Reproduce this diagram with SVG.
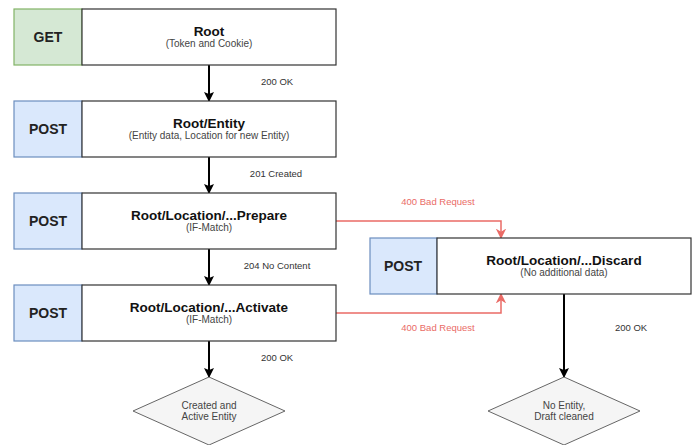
<svg xmlns="http://www.w3.org/2000/svg" width="694" height="445" viewBox="0 0 694 445">
<defs>
<style>
.box{fill:#ffffff;stroke:#333333;stroke-width:1.2}
.get{fill:#d5e8d4;stroke:#82b366;stroke-width:1.2}
.post{fill:#dae8fc;stroke:#6c8ebf;stroke-width:1.2}
.dia{fill:#f5f5f5;stroke:#666666;stroke-width:1}
.t{font-family:"Liberation Sans",Arial,sans-serif;text-anchor:middle}
.title{font-size:13.5px;font-weight:bold;fill:#111}
.sub{font-size:10px;fill:#444}
.verb{font-size:14px;font-weight:bold;fill:#222}
.lbl{font-size:9.5px;fill:#333}
.rl{font-size:9.5px;fill:#ea6b66}
.dt{font-size:10px;fill:#444}
.blk{fill:none;stroke:#000;stroke-width:2}
.red{fill:none;stroke:#ea6b66;stroke-width:1.5}
</style>
<marker id="ab" viewBox="0 0 10 10" refX="9" refY="5" markerWidth="5" markerHeight="5" markerUnits="strokeWidth" orient="auto"><path d="M0,0 L10,5 L0,10 L2,5 Z" fill="#000"/></marker>
<marker id="ar" viewBox="0 0 10 10" refX="9" refY="5" markerWidth="7" markerHeight="7" markerUnits="strokeWidth" orient="auto"><path d="M0,0 L10,5 L0,10 L3,5 Z" fill="#ea6b66"/></marker>
</defs>
<rect width="694" height="445" fill="#ffffff"/>

<g id="connectors">
<path class="blk" d="M209,65 V101" marker-end="url(#ab)"/>
<path class="blk" d="M209,157 V193" marker-end="url(#ab)"/>
<path class="blk" d="M209,249 V285" marker-end="url(#ab)"/>
<path class="blk" d="M209,341 V377" marker-end="url(#ab)"/>
<path class="blk" d="M564,294 V377" marker-end="url(#ab)"/>
<path class="red" d="M336,221 H501 V238" marker-end="url(#ar)"/>
<path class="red" d="M336,313 H501 V294" marker-end="url(#ar)"/>
<text class="t lbl" x="277" y="85">200 OK</text>
<text class="t lbl" x="276" y="177">201 Created</text>
<text class="t lbl" x="277" y="269">204 No Content</text>
<text class="t lbl" x="277" y="361">200 OK</text>
<text class="t rl" x="438" y="205">400 Bad Request</text>
<text class="t rl" x="438" y="331">400 Bad Request</text>
<text class="t lbl" x="631" y="331">200 OK</text>
</g>

<g id="root">
<rect class="get" x="14" y="9" width="68" height="56"/>
<rect class="box" x="82" y="9" width="254" height="56"/>
<text class="t verb" x="48" y="42">GET</text>
<text class="t title" x="209" y="36">Root</text>
<text class="t sub" x="209" y="47">(Token and Cookie)</text>
</g>

<g id="entity">
<rect class="post" x="14" y="101" width="68" height="56"/>
<rect class="box" x="82" y="101" width="254" height="56"/>
<text class="t verb" x="48" y="134">POST</text>
<text class="t title" x="209" y="128">Root/Entity</text>
<text class="t sub" x="209" y="139">(Entity data, Location for new Entity)</text>
</g>

<g id="prepare">
<rect class="post" x="14" y="193" width="68" height="56"/>
<rect class="box" x="82" y="193" width="254" height="56"/>
<text class="t verb" x="48" y="226">POST</text>
<text class="t title" x="209" y="220">Root/Location/...Prepare</text>
<text class="t sub" x="209" y="231">(IF-Match)</text>
</g>

<g id="activate">
<rect class="post" x="14" y="285" width="68" height="56"/>
<rect class="box" x="82" y="285" width="254" height="56"/>
<text class="t verb" x="48" y="318">POST</text>
<text class="t title" x="209" y="312">Root/Location/...Activate</text>
<text class="t sub" x="209" y="323">(IF-Match)</text>
</g>

<g id="discard">
<rect class="post" x="370" y="238" width="67" height="56"/>
<rect class="box" x="437" y="238" width="254" height="56"/>
<text class="t verb" x="403" y="271">POST</text>
<text class="t title" x="564" y="265">Root/Location/...Discard</text>
<text class="t sub" x="564" y="276">(No additional data)</text>
</g>

<g id="created">
<path class="dia" d="M209,377 L285,411 L209,445 L133,411 Z"/>
<text class="t dt" x="209" y="409">Created and</text>
<text class="t dt" x="209" y="420">Active Entity</text>
</g>

<g id="noentity">
<path class="dia" d="M564,377 L640,411 L564,445 L488,411 Z"/>
<text class="t dt" x="564" y="409">No Entity,</text>
<text class="t dt" x="564" y="420">Draft cleaned</text>
</g>
</svg>
